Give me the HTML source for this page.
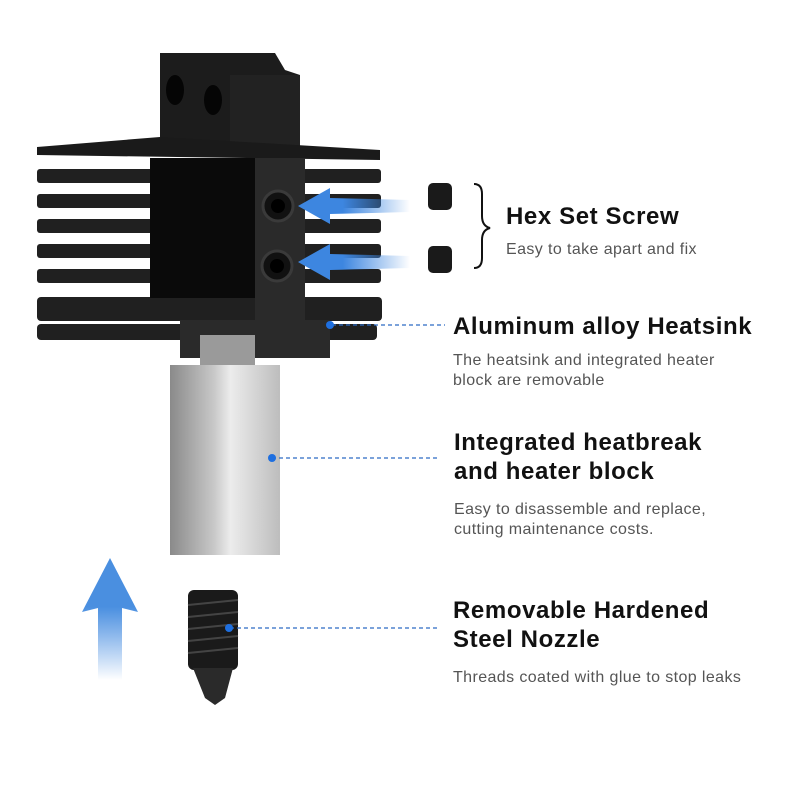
<!DOCTYPE html>
<html><head><style>
body{margin:0;background:#fff;width:800px;height:800px;overflow:hidden;position:relative;font-family:"Liberation Sans",sans-serif}
.t{position:absolute;color:#111;font-weight:bold;font-size:24px;line-height:29px;letter-spacing:0.6px;white-space:nowrap}
.s{position:absolute;color:#555;font-size:16px;line-height:20px;letter-spacing:0.4px;white-space:nowrap}
</style></head><body>
<svg width="800" height="800" style="position:absolute;left:0;top:0">
<defs>
<linearGradient id="ar" x1="1" x2="0"><stop offset="0" stop-color="#3d86e0" stop-opacity="0"/><stop offset="0.6" stop-color="#3d86e0"/></linearGradient>
<linearGradient id="up" x1="0" y1="1" x2="0" y2="0"><stop offset="0" stop-color="#3d86e0" stop-opacity="0"/><stop offset="0.6" stop-color="#4a8fe0"/></linearGradient>
<linearGradient id="sil" x1="0" x2="1"><stop offset="0" stop-color="#8a8a8a"/><stop offset="0.4" stop-color="#c8c8c8"/><stop offset="0.55" stop-color="#ececec"/><stop offset="1" stop-color="#bdbdbd"/></linearGradient>
</defs>
<polygon points="160,53 275,53 285,70 300,75 300,150 160,150" fill="#1c1c1c"/>
<rect x="230" y="75" width="70" height="75" fill="#222"/>
<ellipse cx="175" cy="90" rx="9" ry="15" fill="#050505"/>
<ellipse cx="213" cy="100" rx="9" ry="15" fill="#050505"/>
<polygon points="37,147 160,137 380,150 380,160 37,155" fill="#1a1a1a"/>
<g fill="#202020">
<rect x="37" y="169" width="344" height="14" rx="3"/>
<rect x="37" y="194" width="344" height="14" rx="3"/>
<rect x="37" y="219" width="344" height="14" rx="3"/>
<rect x="37" y="244" width="344" height="14" rx="3"/>
<rect x="37" y="269" width="344" height="14" rx="3"/>
<rect x="37" y="297" width="345" height="24" rx="4"/>
<rect x="37" y="324" width="340" height="16" rx="4"/>
</g>
<rect x="150" y="158" width="107" height="140" fill="#0a0a0a"/>
<rect x="255" y="158" width="50" height="180" fill="#2a2a2a"/>
<rect x="180" y="320" width="150" height="38" fill="#2a2a2a"/>
<circle cx="278" cy="206" r="15" fill="#111" stroke="#3a3a3a" stroke-width="3"/><circle cx="278" cy="206" r="7" fill="#000"/>
<circle cx="277" cy="266" r="15" fill="#111" stroke="#3a3a3a" stroke-width="3"/><circle cx="277" cy="266" r="7" fill="#000"/>
<polygon points="298,206 330,188 330,198 410,200 410,212 330,214 330,224" fill="url(#ar)"/>
<polygon points="298,262 330,244 330,254 410,256 410,268 330,270 330,280" fill="url(#ar)"/>
<rect x="200" y="335" width="55" height="35" fill="#9a9a9a"/>
<rect x="170" y="365" width="110" height="190" fill="url(#sil)"/>
<rect x="188" y="590" width="50" height="80" rx="6" fill="#1a1a1a"/>
<g stroke="#444" stroke-width="2">
<line x1="188" y1="605" x2="238" y2="600"/><line x1="188" y1="617" x2="238" y2="612"/><line x1="188" y1="629" x2="238" y2="624"/><line x1="188" y1="641" x2="238" y2="636"/><line x1="188" y1="653" x2="238" y2="648"/>
</g>
<polygon points="193,668 233,668 225,698 215,705 205,698" fill="#2a2a2a"/>
<polygon points="110,558 138,612 122,608 122,680 98,680 98,608 82,612" fill="url(#up)"/>
<rect x="428" y="183" width="24" height="27" rx="5" fill="#1a1a1a"/>
<rect x="428" y="246" width="24" height="27" rx="5" fill="#1a1a1a"/>
<path d="M474,184 q8,0 8,10 v22 q0,10 8,12 q-8,2 -8,12 v18 q0,10 -8,10" fill="none" stroke="#111" stroke-width="2"/>
<g stroke="#2c6bc4" stroke-width="1.3" stroke-dasharray="4,3">
<line x1="332" y1="325" x2="445" y2="325"/>
<line x1="272" y1="458" x2="440" y2="458"/>
<line x1="230" y1="628" x2="440" y2="628"/>
</g>
<g fill="#1e6fe0"><circle cx="330" cy="325" r="4"/><circle cx="272" cy="458" r="4"/><circle cx="229" cy="628" r="4"/></g>
</svg>
<div class="t" style="left:506px;top:202px">Hex Set Screw</div>
<div class="s" style="left:506px;top:240px">Easy to take apart and fix</div>
<div class="t" style="left:453px;top:312px">Aluminum alloy Heatsink</div>
<div class="s" style="left:453px;top:351px">The heatsink and integrated heater<br>block are removable</div>
<div class="t" style="left:454px;top:428px">Integrated heatbreak<br>and heater block</div>
<div class="s" style="left:454px;top:500px">Easy to disassemble and replace,<br>cutting maintenance costs.</div>
<div class="t" style="left:453px;top:596px">Removable Hardened<br>Steel Nozzle</div>
<div class="s" style="left:453px;top:668px">Threads coated with glue to stop leaks</div>
</body></html>
